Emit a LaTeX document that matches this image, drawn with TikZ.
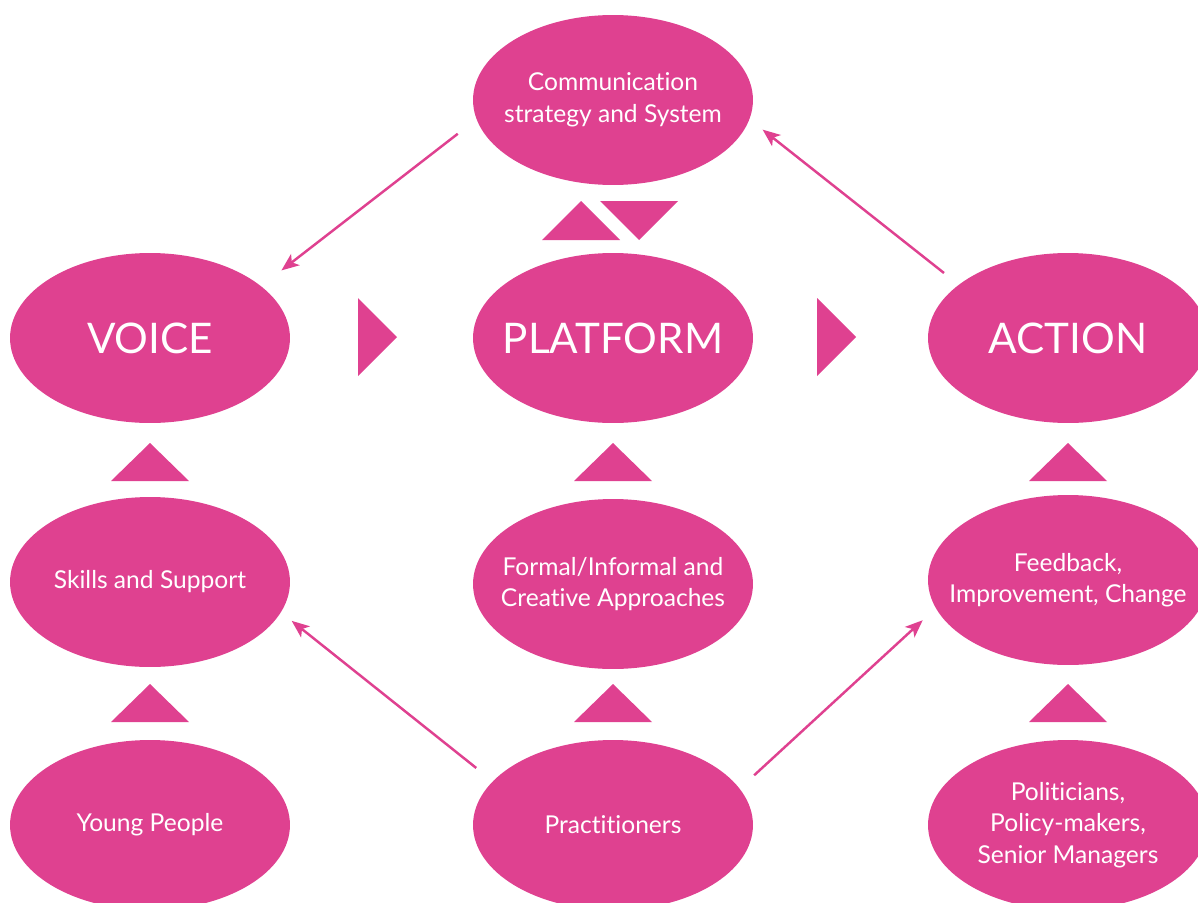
\documentclass[tikz,border=0pt]{standalone}
\usepackage{fontspec}
\setmainfont{Lato}[Ligatures=NoCommon]
\usepackage{xcolor}
\usepackage{tikz}
\usetikzlibrary{shapes.geometric, arrows.meta}

\definecolor{rose}{RGB}{223,65,144}

\begin{document}
\begin{tikzpicture}[x=0.02cm, y=-0.02cm,
  bubble/.style={ellipse, fill=rose, text=white, minimum width=5.6cm, minimum height=3.4cm,
    inner sep=-40pt, outer sep=0pt, align=center, font=\fontsize{14}{18}\selectfont},
  bigbubble/.style={bubble, font=\fontsize{24}{30}\selectfont},
  link/.style={draw=rose, line width=1.4pt, -{Stealth[length=10pt, width=8pt, inset=2.5pt]}}]
  \useasboundingbox (0,0) rectangle (1198,903);

  % Draw the three main ellipses
  \node[bigbubble] (voice) at (150,338) {VOICE};
  \node[bigbubble] (platform) at (613,338) {PLATFORM};
  \node[bigbubble] (action) at (1068,338) {ACTION};

  % Draw the top ellipse
  \node[bubble] (comm) at (613,100) {Communication\\strategy and System};

  % Draw the middle row
  \node[bubble] (skills) at (150,582) {Skills and Support};
  \node[bubble] (formal) at (613,584) {Formal/Informal and\\Creative Approaches};
  \node[bubble] (feedback) at (1068,580) {Feedback,\\Improvement, Change};

  % Draw the bottom row
  \node[bubble] (young) at (150,825) {Young People};
  \node[bubble] (prac) at (613,825) {Practitioners};
  \node[bubble] (politicians) at (1068,825) {Politicians,\\Policy-makers,\\Senior Managers};

  % Draw the triangles pointing right
  \fill[rose] (358,298) -- (397,337) -- (358,376) -- cycle;
  \fill[rose] (817,298) -- (856,337) -- (817,376) -- cycle;

  % Draw the triangles pointing up
  \foreach \cx in {150, 613, 1068} {
    \fill[rose] (\cx-39,481) -- (\cx,443) -- (\cx+39,481) -- cycle;
    \fill[rose] (\cx-39,722) -- (\cx,684) -- (\cx+39,722) -- cycle;
  }

  % Draw the triangles below the top ellipse
  \fill[rose] (542,240) -- (581,201) -- (620,240) -- cycle;
  \fill[rose] (600,201) -- (678,201) -- (639,240) -- cycle;

  % Draw the arrows
  \draw[link, shorten <=13.6pt, shorten >=14.7pt] (comm.188) -- (voice.25);
  \draw[link, shorten <=10.8pt, shorten >=9.6pt] (action.154) -- (comm.352);
  \draw[link, shorten <=12.2pt, shorten >=7.9pt] (prac.160) -- (skills.347);
  \draw[link, shorten <=11.3pt, shorten >=10.2pt] (prac.16) -- (feedback.192);
\end{tikzpicture}
\end{document}
